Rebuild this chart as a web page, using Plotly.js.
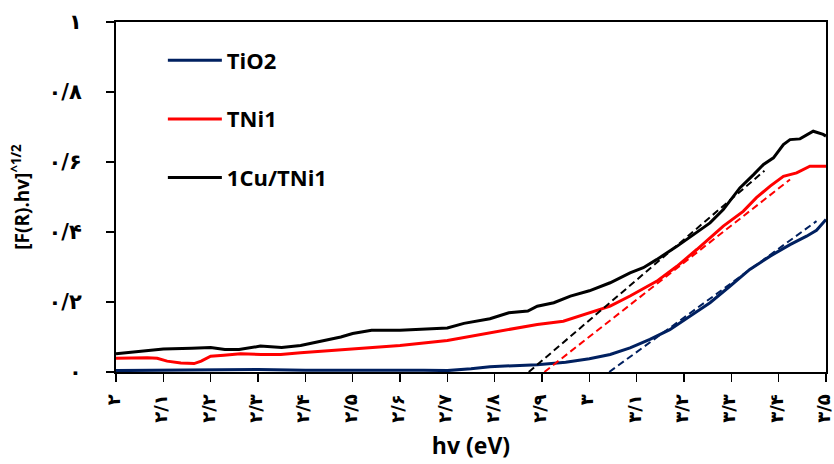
<!DOCTYPE html>
<html>
<head>
<meta charset="utf-8">
<script src="https://cdn.plot.ly/plotly-3.0.1.min.js"></script>
<style>html,body{margin:0;padding:0;background:#fff;}#chart{width:834px;height:464px;}</style>
</head>
<body>
<div id="chart"></div>
<script>
// Series data (hv in eV, [F(R).hv]^1/2)
const tio2X = [2.00,2.08,2.15,2.22,2.30,2.40,2.48,2.56,2.65,2.70,2.75,2.79,2.89,2.95,3.00,3.044,3.086,3.128,3.170,3.213,3.255,3.297,3.339,3.382,3.424,3.459,3.480,3.500];
const tio2Y = [0.004,0.005,0.006,0.005,0.007,0.005,0.006,0.005,0.005,0.004,0.009,0.015,0.021,0.028,0.038,0.050,0.069,0.093,0.121,0.159,0.198,0.245,0.293,0.331,0.364,0.388,0.405,0.436];

const tni1X = [2.000,2.066,2.087,2.108,2.137,2.165,2.180,2.200,2.228,2.263,2.306,2.348,2.390,2.446,2.500,2.600,2.700,2.790,2.890,2.945,3.000,3.044,3.086,3.142,3.185,3.227,3.283,3.325,3.353,3.382,3.410,3.438,3.466,3.500];
const tni1Y = [0.039,0.041,0.039,0.031,0.026,0.024,0.031,0.045,0.048,0.052,0.050,0.050,0.055,0.061,0.066,0.076,0.090,0.112,0.136,0.145,0.168,0.188,0.217,0.259,0.302,0.350,0.417,0.459,0.498,0.531,0.559,0.569,0.588,0.588];

const cuX = [2.000,2.040,2.100,2.160,2.200,2.230,2.260,2.305,2.350,2.390,2.430,2.475,2.500,2.540,2.600,2.650,2.700,2.735,2.790,2.830,2.870,2.890,2.925,2.960,3.000,3.044,3.086,3.114,3.142,3.185,3.227,3.255,3.283,3.318,3.347,3.368,3.389,3.410,3.424,3.445,3.473,3.494,3.500];
const cuY = [0.052,0.057,0.066,0.068,0.070,0.064,0.064,0.074,0.070,0.076,0.088,0.100,0.110,0.119,0.119,0.123,0.126,0.139,0.152,0.169,0.174,0.188,0.198,0.217,0.232,0.255,0.283,0.298,0.321,0.359,0.398,0.426,0.464,0.526,0.564,0.593,0.612,0.650,0.664,0.666,0.688,0.679,0.674];

// Tangent (band-gap) lines
const fitCuX = [2.872, 3.37];  const fitCuY = [0, 0.575];
const fitNiX = [2.905, 3.424]; const fitNiY = [0, 0.55];
const fitTiX = [3.042, 3.48];  const fitTiY = [0, 0.431];

// Tick labels (Persian digits)
const xTickVals = [2.0,2.1,2.2,2.3,2.4,2.5,2.6,2.7,2.8,2.9,3.0,3.1,3.2,3.3,3.4,3.5];
const xTickText = ['۲','۲/۱','۲/۲','۲/۳','۲/۴','۲/۵','۲/۶','۲/۷','۲/۸','۲/۹','۳','۳/۱','۳/۲','۳/۳','۳/۴','۳/۵'];
const yTickVals = [0,0.2,0.4,0.6,0.8,1.0];
const yTickText = ['۰','۰/۲','۰/۴','۰/۶','۰/۸','۱'];

const NAVY = '#002060', RED = '#ff0000', BLACK = '#000000';
const dashStyle = '7px,4px';

const traces = [
  {x: tio2X, y: tio2Y, name: 'TiO2', mode: 'lines', line: {color: NAVY, width: 3}, legendgroup: 'a'},
  {x: tni1X, y: tni1Y, name: 'TNi1', mode: 'lines', line: {color: RED, width: 3}, legendgroup: 'b'},
  {x: cuX, y: cuY, name: '1Cu/TNi1', mode: 'lines', line: {color: BLACK, width: 3}, legendgroup: 'c'},
  {x: fitCuX, y: fitCuY, mode: 'lines', line: {color: BLACK, width: 2, dash: dashStyle}, showlegend: false},
  {x: fitNiX, y: fitNiY, mode: 'lines', line: {color: RED, width: 2, dash: dashStyle}, showlegend: false},
  {x: fitTiX, y: fitTiY, mode: 'lines', line: {color: NAVY, width: 2, dash: dashStyle}, showlegend: false}
];

const layout = {
  width: 834, height: 464,
  margin: {l: 116, r: 8, t: 22, b: 92},
  paper_bgcolor: '#fff', plot_bgcolor: '#fff',
  font: {family: 'Open Sans, DejaVu Sans, sans-serif', color: '#000', size: 16},
  showlegend: true,
  legend: {
    x: 0.066, y: 0.95, xanchor: 'left', yanchor: 'top',
    bgcolor: 'rgba(0,0,0,0)', borderwidth: 0,
    traceorder: 'grouped', tracegroupgap: 27, itemwidth: 54,
    font: {family: 'Open Sans, sans-serif', size: 22, weight: 'bold', color: '#000'}
  },
  xaxis: {
    range: [2, 3.5], showgrid: false, zeroline: false,
    showline: true, linecolor: '#000', linewidth: 2, mirror: true,
    ticks: 'outside', ticklen: 8, tickwidth: 1.5, tickcolor: '#000',
    tickvals: xTickVals, ticktext: xTickText, tickangle: -90,
    tickfont: {family: 'DejaVu Sans, sans-serif', size: 18, weight: 'bold'},
    ticklabelstandoff: 5, ticklabelshift: -2, ticklabeloverflow: 'allow',
    title: {text: 'hv (eV)', standoff: 16, font: {family: 'Open Sans, sans-serif', size: 23, weight: 'bold'}}
  },
  yaxis: {
    range: [0, 1], showgrid: false, zeroline: false,
    showline: true, linecolor: '#000', linewidth: 2, mirror: true,
    ticks: 'outside', ticklen: 8, tickwidth: 1.5, tickcolor: '#000',
    tickvals: yTickVals, ticktext: yTickText,
    tickfont: {family: 'DejaVu Sans, sans-serif', size: 21, weight: 'bold'},
    ticklabelstandoff: 20, ticklabeloverflow: 'allow',
    title: {text: '[F(R).hv]<sup>^1/2</sup>', standoff: 14, font: {family: 'Open Sans, sans-serif', size: 19, weight: 'bold'}}
  }
};

Plotly.newPlot('chart', traces, layout, {displayModeBar: false, staticPlot: true});
</script>
</body>
</html>
